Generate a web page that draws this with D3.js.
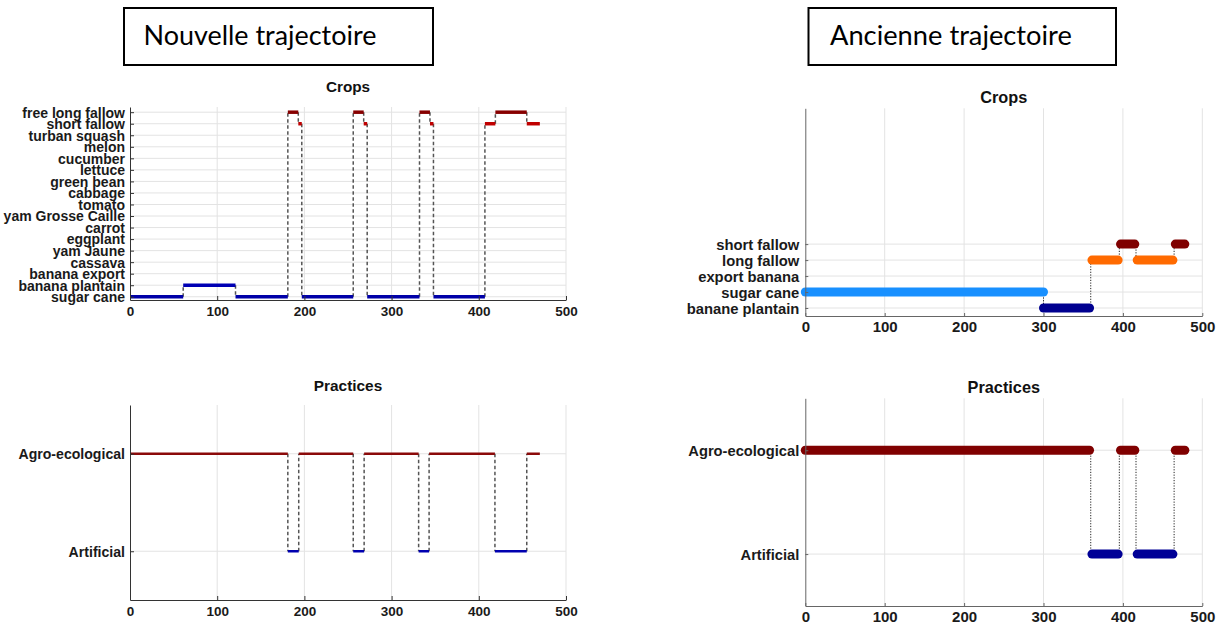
<!DOCTYPE html>
<html>
<head>
<meta charset="utf-8">
<script src="https://cdn.jsdelivr.net/npm/d3@7"></script>
<style>
  html, body { margin: 0; padding: 0; background: #fff; }
  svg { display: block; }
</style>
</head>
<body>
<svg id="chart" width="1222" height="625"></svg>
<script>
// ---------------- DATA ----------------
const xTicks = [0, 100, 200, 300, 400, 500];

// Nouvelle trajectoire - Crops (categories listed bottom to top)
const newCropCategories = ["sugar cane", "banana plantain", "banana export", "cassava", "yam Jaune",
  "eggplant", "carrot", "yam Grosse Caille", "tomato", "cabbage", "green bean", "lettuce",
  "cucumber", "melon", "turban squash", "short fallow", "free long fallow"];
const newCropStart = [0, 61, 121, 181, 193, 197, 256, 268, 272, 332, 344, 348, 407, 419, 455];
const newCropEnd   = [61, 121, 181, 193, 197, 256, 268, 272, 332, 344, 348, 407, 419, 455, 470];
const newCropName  = ["sugar cane", "banana plantain", "sugar cane", "free long fallow", "short fallow",
  "sugar cane", "free long fallow", "short fallow", "sugar cane", "free long fallow", "short fallow",
  "sugar cane", "short fallow", "free long fallow", "short fallow"];

// Nouvelle trajectoire - Practices
const practiceCategories = ["Artificial", "Agro-ecological"];
const newPracStart = [0, 181, 193.5, 256, 268.5, 331, 343, 418.5, 455];
const newPracEnd   = [181, 193.5, 256, 268.5, 331, 343, 418.5, 455, 470];
const newPracName  = ["Agro-ecological", "Artificial", "Agro-ecological", "Artificial", "Agro-ecological",
  "Artificial", "Agro-ecological", "Artificial", "Agro-ecological"];

// Ancienne trajectoire - Crops
const oldCropCategories = ["banane plantain", "sugar cane", "export banana", "long fallow", "short fallow"];
const oldCropStart = [0, 300, 361, 397, 418, 466];
const oldCropEnd   = [300, 358, 394, 415, 463, 478];
const oldCropName  = ["sugar cane", "banane plantain", "long fallow", "short fallow", "long fallow", "short fallow"];

// Ancienne trajectoire - Practices
const oldPracStart = [0, 361, 397, 418, 466];
const oldPracEnd   = [358, 394, 415, 463, 478];
const oldPracName  = ["Agro-ecological", "Artificial", "Agro-ecological", "Artificial", "Agro-ecological"];

// ---------------- STYLES ----------------
const newCropColors = {
  "sugar cane": "#0000a8", "banana plantain": "#0000b4",
  "short fallow": "#c00000", "free long fallow": "#870000"
};
const oldCropColors = {
  "sugar cane": "#1890ff", "banane plantain": "#000090",
  "long fallow": "#ff6a00", "short fallow": "#800000"
};
const newPracColors = { "Agro-ecological": "#8b0a0a", "Artificial": "#0000b0" };
const oldPracColors = { "Agro-ecological": "#800000", "Artificial": "#000096" };

const FONT = "'Liberation Sans', Arial, Helvetica, sans-serif";
const svg = d3.select("#chart");

function panel(o) {
  const g = svg.append("g");
  const x = d3.scaleLinear().domain([0, 500]).range([o.x0, o.x1]);
  const y = d3.scaleLinear().domain(o.yDomain).range([o.yBottom, o.yTop]);
  const catVals = o.cats.map((c, i) => i + 1);
  const yOf = name => y(o.cats.indexOf(name) + 1);

  // grid
  g.append("g").selectAll("line.v").data(xTicks.filter(t => t > 0)).join("line")
    .attr("x1", d => x(d)).attr("x2", d => x(d))
    .attr("y1", o.yTop).attr("y2", o.yBottom)
    .attr("stroke", "#e3e3e3").attr("stroke-width", 1);
  g.append("g").selectAll("line.h").data(catVals).join("line")
    .attr("x1", o.x0).attr("x2", o.x1)
    .attr("y1", d => y(d)).attr("y2", d => y(d))
    .attr("stroke", "#e3e3e3").attr("stroke-width", 1);

  // connectors
  const conn = [];
  for (let i = 1; i < o.starts.length; i++) {
    conn.push({ x: (o.ends[i - 1] + o.starts[i]) / 2, a: o.names[i - 1], b: o.names[i] });
  }
  g.append("g").selectAll("line").data(conn).join("line")
    .attr("x1", d => x(d.x)).attr("x2", d => x(d.x))
    .attr("y1", d => yOf(d.a)).attr("y2", d => yOf(d.b))
    .attr("stroke", o.connColor).attr("stroke-width", o.connWidth)
    .attr("stroke-dasharray", o.connDash);

  // segments
  const segs = o.starts.map((s, i) => ({ s, e: o.ends[i], n: o.names[i] }));
  g.append("g").selectAll("line").data(segs).join("line")
    .attr("x1", d => x(d.s)).attr("x2", d => x(d.e))
    .attr("y1", d => yOf(d.n)).attr("y2", d => yOf(d.n))
    .attr("stroke", d => o.colors[d.n]).attr("stroke-width", o.lw)
    .attr("stroke-linecap", o.cap);

  // axes
  const xAxis = d3.axisBottom(x).tickValues(xTicks).tickSizeInner(-o.tickLen).tickSizeOuter(0)
    .tickPadding(o.xPad);
  const gx = g.append("g").attr("transform", `translate(0,${o.yBottom})`).call(xAxis);
  const yAxis = d3.axisLeft(y).tickValues(catVals).tickFormat(d => o.cats[d - 1])
    .tickSizeInner(-o.tickLen).tickSizeOuter(0).tickPadding(o.yPad);
  const gy = g.append("g").attr("transform", `translate(${o.x0},0)`).call(yAxis);
  [gx, gy].forEach(a => {
    a.select(".domain").attr("stroke", o.axisColor).attr("stroke-width", 1);
    a.selectAll(".tick line").attr("stroke", o.axisColor).attr("stroke-width", 1);
    a.selectAll("text").attr("fill", "#1a1a1a").attr("font-family", FONT).attr("font-weight", "bold");
  });
  gx.selectAll("text").attr("font-size", o.xFont + "px").attr("dy", "0.71em");
  gy.selectAll("text").attr("font-size", o.yFont + "px").attr("dy", "0.35em");

  // title
  g.append("text").attr("x", (o.x0 + o.x1) / 2).attr("y", o.titleY)
    .attr("text-anchor", "middle").attr("font-family", FONT).attr("font-weight", "bold")
    .attr("font-size", o.titleFont + "px").attr("fill", "#111").text(o.title);
}

// Nouvelle - Crops
panel({ x0: 130, x1: 566, yTop: 107, yBottom: 300, yDomain: [0.72, 17.45],
  cats: newCropCategories, starts: newCropStart, ends: newCropEnd, names: newCropName,
  colors: newCropColors, lw: 3.5, cap: "butt",
  connColor: "#555", connWidth: 1.5, connDash: "3.5,2.5",
  tickLen: 4, xPad: 6, yPad: 5, xFont: 13.5, yFont: 14, axisColor: "#333",
  title: "Crops", titleY: 92, titleFont: 15.3 });

// Nouvelle - Practices
panel({ x0: 130, x1: 566, yTop: 405, yBottom: 600, yDomain: [0.5, 2.5],
  cats: practiceCategories, starts: newPracStart, ends: newPracEnd, names: newPracName,
  colors: newPracColors, lw: 2.5, cap: "butt",
  connColor: "#555", connWidth: 1.5, connDash: "3.5,2.5",
  tickLen: 4, xPad: 6, yPad: 5, xFont: 13.5, yFont: 14.1, axisColor: "#333",
  title: "Practices", titleY: 391, titleFont: 15.4 });

// Ancienne - Crops
panel({ x0: 805.3, x1: 1202.3, yTop: 108.3, yBottom: 316, yDomain: [0.5, 13.5],
  cats: oldCropCategories, starts: oldCropStart, ends: oldCropEnd, names: oldCropName,
  colors: oldCropColors, lw: 9, cap: "round",
  connColor: "#222", connWidth: 1, connDash: "1.2,1.5",
  tickLen: 3, xPad: 5, yPad: 6, xFont: 15, yFont: 14.8, axisColor: "#666",
  title: "Crops", titleY: 102.7, titleFont: 16.3 });

// Ancienne - Practices
panel({ x0: 805.3, x1: 1202.3, yTop: 398.3, yBottom: 606, yDomain: [0.5, 2.5],
  cats: practiceCategories, starts: oldPracStart, ends: oldPracEnd, names: oldPracName,
  colors: oldPracColors, lw: 9, cap: "round",
  connColor: "#222", connWidth: 1, connDash: "1.2,1.5",
  tickLen: 3, xPad: 5, yPad: 6, xFont: 15, yFont: 14.7, axisColor: "#666",
  title: "Practices", titleY: 392.7, titleFont: 16.3 });

// Title boxes
function titleBox(x, y, w, h, tx, label, targetW) {
  svg.append("rect").attr("x", x).attr("y", y).attr("width", w).attr("height", h)
    .attr("fill", "none").attr("stroke", "#000").attr("stroke-width", 2);
  const t = svg.append("text").attr("x", tx).attr("y", 45)
    .attr("font-family", "Lato, 'Open Sans', sans-serif").attr("font-size", "25px")
    .attr("fill", "#000").text(label);
  const len = t.node().getComputedTextLength();
  if (len > 0) t.attr("font-size", (25 * targetW / len) + "px");
}
titleBox(124, 8, 309, 57, 143.5, "Nouvelle trajectoire", 233);
titleBox(808.5, 8, 307.5, 57, 830, "Ancienne trajectoire", 242);
</script>
</body>
</html>
